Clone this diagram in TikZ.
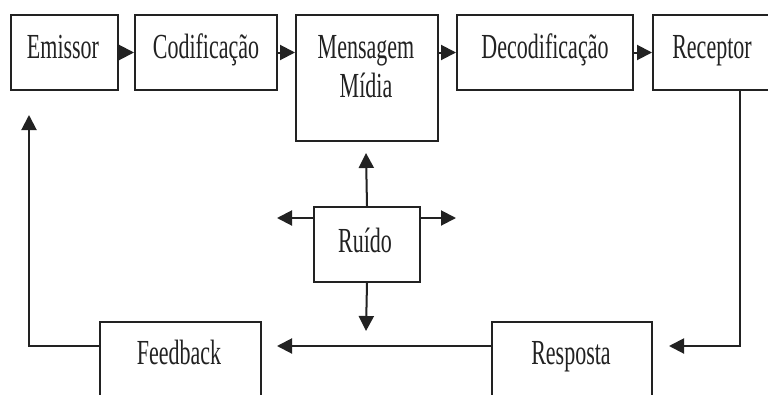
\documentclass[tikz,border=0pt]{standalone}
\usepackage{fontspec}
\usepackage{graphicx}
\setmainfont{Liberation Serif}
\usetikzlibrary{arrows.meta}
\definecolor{ink}{HTML}{222222}
\newcommand{\tx}[1]{\scalebox{1}[1.6]{#1}}
\begin{document}
\begin{tikzpicture}[x=1pt,y=-1pt,
  box/.style={draw=ink,line width=2pt,rectangle,inner sep=0pt,anchor=north west},
  lbl/.style={anchor=base,inner sep=0pt,text=ink,font=\fontsize{22}{26}\selectfont},
  arr/.style={draw=ink,line width=2pt,-{Triangle[length=15pt,width=15pt]}},
  ln/.style={draw=ink,line width=2pt}]
\useasboundingbox (0,0) rectangle (768,394);
\clip (0,0) rectangle (768,394);
\fill[white] (0,0) rectangle (768,394);
% boxes
\node[box,minimum width=107pt,minimum height=75pt] (emissor) at (10,14) {};
\node[box,minimum width=142pt,minimum height=75pt] (codif) at (134,14) {};
\node[box,minimum width=142pt,minimum height=126pt] (mens) at (295,14) {};
\node[box,minimum width=176pt,minimum height=75pt] (decod) at (456,14) {};
\node[box,minimum width=130pt,minimum height=75pt] (receptor) at (652,14) {};
\node[box,minimum width=106pt,minimum height=75pt] (ruido) at (313,206) {};
\node[box,minimum width=161pt,minimum height=90pt] (feedback) at (99,321) {};
\node[box,minimum width=160pt,minimum height=90pt] (resposta) at (491,321) {};
% labels
\node[lbl] (t-emissor) at (63,58) {\tx{Emissor}};
\node[lbl] (t-codif) at (206,58) {\tx{Codificação}};
\node[lbl] (t-mens1) at (366,58) {\tx{Mensagem}};
\node[lbl] (t-mens2) at (366,97) {\tx{Mídia}};
\node[lbl] (t-decod) at (545,58) {\tx{Decodificação}};
\node[lbl] (t-receptor) at (712,58) {\tx{Receptor}};
\node[lbl] (t-ruido) at (365,252) {\tx{Ruído}};
\node[lbl] (t-feedback) at (179,364) {\tx{Feedback}};
\node[lbl] (t-resposta) at (571,364) {\tx{Resposta}};
% free ends
\coordinate (upTip) at (366,153);
\coordinate (downTip) at (366,331);
\coordinate (leftTip) at (277,218);
\coordinate (rightTip) at (456,218);
\coordinate (fbTip) at (277,346);
\coordinate (rpTip) at (669,346);
\coordinate (emTip) at (29,115);
\coordinate (rcCorner) at (740,346);
\coordinate (fbCorner) at (29,346);
% top chain
\draw[arr] (emissor.east) -- (codif.west);
\draw[arr] (codif.east) -- (codif.east -| mens.west);
\draw[arr] (mens.east |- decod.east) -- (decod.west);
\draw[arr] (decod.east) -- (receptor.west);
% noise
\draw[arr] (ruido.north) -- (upTip);
\draw[arr] (ruido.south) -- (downTip);
\draw[arr] (ruido.west |- leftTip) -- (leftTip);
\draw[arr] (ruido.east |- rightTip) -- (rightTip);
% feedback loop
\draw[arr] (receptor.south -| rcCorner) -- (rcCorner) -- (rpTip);
\draw[arr] (resposta.west |- fbTip) -- (fbTip);
\draw[arr] (feedback.west |- fbCorner) -- (fbCorner) -- (emTip);
\end{tikzpicture}
\end{document}
